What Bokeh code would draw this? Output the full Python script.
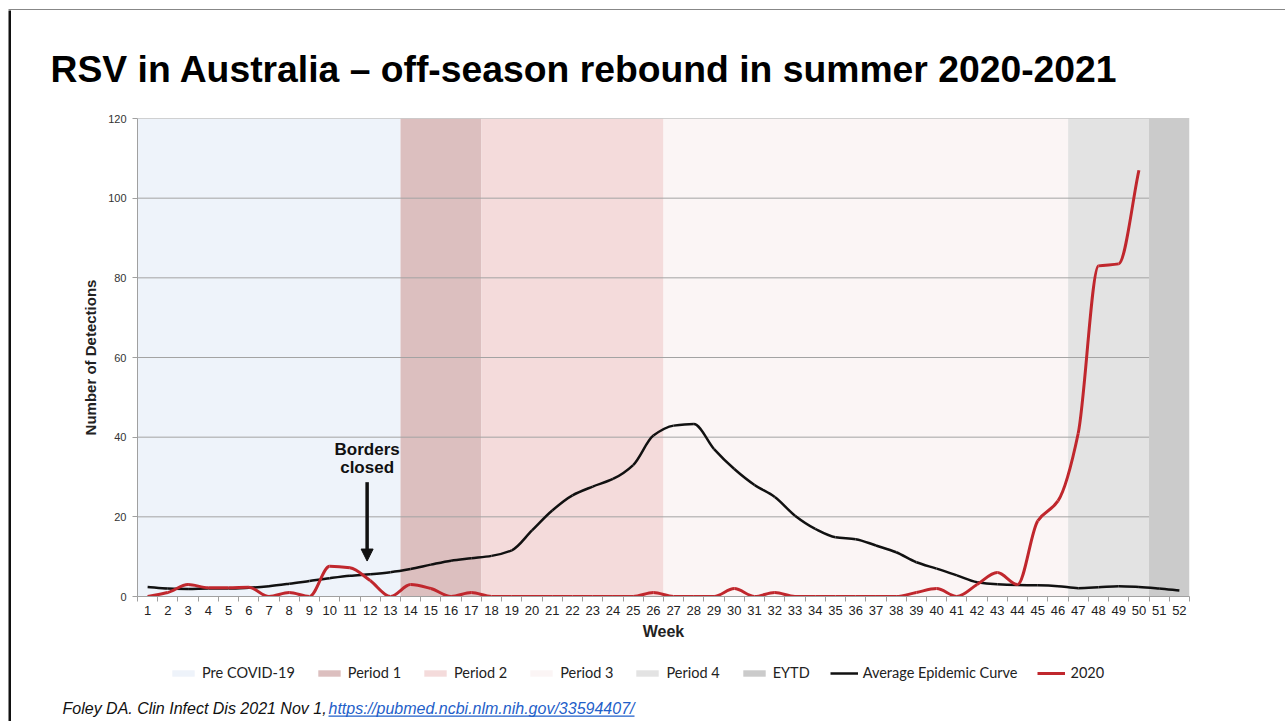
from bokeh.plotting import figure
from bokeh.layouts import column, row
from bokeh.models import (FixedTicker, Label, Arrow, NormalHead, Legend,
                          LegendItem, BoxAnnotation, Range1d)
from bokeh.embed import file_html
from bokeh.resources import INLINE

# ---------------- data ----------------
weeks = list(range(1, 53))
avg_epidemic = [2.4, 2.0, 1.9, 2.0, 2.0, 2.2, 2.6, 3.2, 3.9, 4.6,
                5.2, 5.6, 6.1, 6.9, 8.0, 9.0, 9.6, 10.2, 11.6, 16.6,
                21.6, 25.4, 27.6, 29.5, 33.0, 40.4, 42.9, 43.3, 37.0, 32.0,
                28.0, 25.0, 20.3, 17.0, 14.9, 14.4, 12.8, 11.1, 8.6, 7.0,
                5.3, 3.6, 3.1, 2.9, 2.8, 2.6, 2.1, 2.3, 2.6, 2.4,
                2.0, 1.5]
weeks_2020 = list(range(1, 51))
cases_2020 = [0, 1, 3, 2.2, 2.2, 2.3, 0, 1, 0, 7.6,
              7.2, 4, 0, 3, 2, 0, 1, 0, 0, 0,
              0, 0, 0, 0, 0, 1, 0, 0, 0, 2,
              0, 1, 0, 0, 0, 0, 0, 0, 1, 2,
              0, 3, 6, 3, 19, 24, 41, 83, 83.5, 107]
period_names = ["Pre COVID-19", "Period 1", "Period 2", "Period 3", "Period 4", "EYTD"]
period_start = [0.5, 13.5, 17.5, 26.5, 46.5, 50.5]
period_end = [13.5, 17.5, 26.5, 46.5, 50.5, 52.5]
y_ticks = [0, 20, 40, 60, 80, 100, 120]
border_week = 11.85
border_text_y = [37.0, 32.4]
border_arrow_y = [28.7, 8.9]

title_text = "RSV in Australia \u2013 off-season rebound in summer 2020-2021"
cite_text = "Foley DA. Clin Infect Dis 2021 Nov 1, "
cite_url = "https://pubmed.ncbi.nlm.nih.gov/33594407/"

# ---------------- styles / page geometry ----------------
period_colors = ["#eef3fa", "#dcbfbf", "#f4dbdb", "#fbf5f5", "#e3e3e3", "#cbcbcb"]
avg_color, red_color = "#111111", "#c0272d"
ARIAL = "Liberation Sans"
W, H = 1285, 721
BX, BY, BT = 8, 7, 3            # slide frame line position / thickness
CX, CY = BX + BT, BY + BT       # content origin
CW = W - CX                     # content width
TITLE_H = 90                    # title strip height
MAIN_TOP = CY + TITLE_H         # canvas y where main figure starts
MAIN_BOTTOM = 655               # canvas y where main figure ends
FL, FR, FT, FB = 137, 1189, 118, 596   # plot frame in page pixels


def blank(width, height, ml=0, mt=0, bg="white", far=False):
    rng = (-100, -99) if far else (0, 1)
    f = figure(width=width, height=height, output_backend="svg", toolbar_location=None,
               x_axis_type=None, y_axis_type=None, x_range=Range1d(*rng),
               y_range=Range1d(*rng), min_border_left=ml,
               min_border_right=0, min_border_top=mt, min_border_bottom=0,
               outline_line_color=None, border_fill_color="white",
               background_fill_color=bg, frame_align=False)
    for g in f.grid:
        g.visible = False
    return f


def smooth(xs, ys):
    """Bezier control points for a monotone smooth line through the data."""
    n = len(xs)
    d = [(ys[i + 1] - ys[i]) / (xs[i + 1] - xs[i]) for i in range(n - 1)]
    m = [0.0] * n
    m[0], m[-1] = d[0], d[-1]
    for i in range(1, n - 1):
        m[i] = 0.0 if d[i - 1] * d[i] <= 0 else 2.0 / (1.0 / d[i - 1] + 1.0 / d[i])
    out = dict(x0=[], y0=[], x1=[], y1=[], cx0=[], cy0=[], cx1=[], cy1=[])
    for i in range(n - 1):
        h = xs[i + 1] - xs[i]
        out["x0"].append(xs[i]); out["y0"].append(ys[i])
        out["x1"].append(xs[i + 1]); out["y1"].append(ys[i + 1])
        out["cx0"].append(xs[i] + h / 3); out["cy0"].append(ys[i] + m[i] * h / 3)
        out["cx1"].append(xs[i + 1] - h / 3); out["cy1"].append(ys[i + 1] - m[i + 1] * h / 3)
    return out


# ---------------- slide frame strips ----------------
top_strip = blank(W, CY, ml=BX, mt=BY, bg="#111111")
left_strip = blank(CX, H - CY, ml=BX, bg="#111111")

# ---------------- title ----------------
title_fig = blank(CW, TITLE_H)
title_fig.add_layout(Label(x=50 - CX, y=MAIN_TOP - 68, x_units="screen", y_units="screen",
                           text=title_text, text_font=ARIAL, text_font_style="bold",
                           text_font_size="37.3px", text_color="#000000",
                           text_baseline="middle"))

# ---------------- main chart ----------------
p = figure(width=CW, height=MAIN_BOTTOM - MAIN_TOP,
           x_range=(period_start[0], period_end[-1]),
           y_range=(y_ticks[0], y_ticks[-1]), output_backend="svg",
           toolbar_location=None, min_border_left=FL - CX, min_border_right=W - FR,
           min_border_top=FT - MAIN_TOP, min_border_bottom=MAIN_BOTTOM - FB,
           frame_align=False)
p.xgrid.visible = False
p.ygrid.visible = False
p.outline_line_color = None
p.background_fill_color = "white"
p.border_fill_color = "white"

for s, e, c in zip(period_start, period_end, period_colors):
    p.quad(left=s, right=e, bottom=y_ticks[0], top=y_ticks[-1], fill_color=c, line_color=None)

inner = y_ticks[1:-1]
p.segment(x0=[period_start[0]] * len(inner), x1=[period_start[-1]] * len(inner),
          y0=inner, y1=inner, line_color="#a3a3a3", line_width=1)
p.segment(x0=[period_start[0]], x1=[period_end[-1]], y0=[y_ticks[-1]], y1=[y_ticks[-1]],
          line_color="#a3a3a3", line_width=1)

p.bezier(line_color=avg_color, line_width=2.5, **smooth(weeks, avg_epidemic))
p.bezier(line_color=red_color, line_width=3, **smooth(weeks_2020, cases_2020))

ya = p.yaxis[0]
ya.ticker = FixedTicker(ticks=y_ticks)
ya.axis_label = "Number of Detections"
ya.axis_label_text_font = ARIAL
ya.axis_label_text_font_style = "bold"
ya.axis_label_text_font_size = "15px"
ya.axis_label_text_color = "#222222"
ya.axis_label_standoff = 6
ya.major_label_text_font = ARIAL
ya.major_label_text_font_size = "11px"
ya.major_label_text_color = "#333333"
ya.major_label_standoff = 6
ya.axis_line_color = "#a0a0a0"
ya.major_tick_line_color = "#a0a0a0"
ya.major_tick_out = 5
ya.major_tick_in = 0
ya.minor_tick_line_color = None

xa = p.xaxis[0]
xa.ticker = FixedTicker(ticks=weeks, minor_ticks=[w - 0.5 for w in weeks] + [weeks[-1] + 0.5])
xa.axis_label = "Week"
xa.axis_label_text_font = ARIAL
xa.axis_label_text_font_style = "bold"
xa.axis_label_text_font_size = "16px"
xa.axis_label_text_color = "#222222"
xa.axis_label_standoff = 5
xa.major_label_text_font = ARIAL
xa.major_label_text_font_size = "13px"
xa.major_label_text_color = "#222222"
xa.major_label_standoff = 4
xa.axis_line_color = "#a0a0a0"
xa.major_tick_line_color = None
xa.major_tick_out = 0
xa.major_tick_in = 0
xa.minor_tick_line_color = "#a0a0a0"
xa.minor_tick_out = 5
xa.minor_tick_in = 0

for txt, yy in zip(["Borders", "closed"], border_text_y):
    p.add_layout(Label(x=border_week, y=yy, text=txt, text_align="center",
                       text_baseline="middle", text_font=ARIAL, text_font_style="bold",
                       text_font_size="17px", text_color="#111111"))
p.add_layout(Arrow(end=NormalHead(size=12, fill_color="#111111", line_color="#111111"),
                   x_start=border_week, y_start=border_arrow_y[0],
                   x_end=border_week, y_end=border_arrow_y[1],
                   line_width=3.5, line_color="#111111"))

# ---------------- legend + citation strip ----------------
# legend proxies: same data, drawn far outside this strip's visible ranges
bottom_fig = blank(CW, H - MAIN_BOTTOM, far=True)
items = []
for n, s, e, c in zip(period_names, period_start, period_end, period_colors):
    r = bottom_fig.quad(left=[s], right=[e], bottom=[y_ticks[0]], top=[y_ticks[-1]],
                        fill_color=c, line_color=None)
    items.append(LegendItem(label=n, renderers=[r]))
r_avg = bottom_fig.line(x=weeks, y=avg_epidemic, line_color=avg_color, line_width=2.5)
r_red = bottom_fig.line(x=weeks_2020, y=cases_2020, line_color=red_color, line_width=3)
items += [LegendItem(label="Average Epidemic Curve", renderers=[r_avg]),
          LegendItem(label="2020", renderers=[r_red])]
legend = Legend(items=items, location=(169 - CX, H - 681), orientation="horizontal",
                glyph_width=28, glyph_height=8, label_standoff=5, spacing=20,
                padding=0, margin=0, background_fill_alpha=0, border_line_color=None,
                label_text_font="Lato", label_text_font_size="14.5px",
                label_text_color="#222222")
bottom_fig.add_layout(legend)

bottom_fig.add_layout(Label(x=62 - CX, y=H - 707.5, x_units="screen", y_units="screen",
                            text=cite_text, text_font=ARIAL, text_font_style="italic",
                            text_font_size="16px", text_color="#111111",
                            text_baseline="middle"))
bottom_fig.add_layout(Label(x=328 - CX, y=H - 707.5, x_units="screen", y_units="screen",
                            text=cite_url, text_font=ARIAL, text_font_style="italic",
                            text_font_size="16px", text_color="#1f5fc9",
                            text_baseline="middle"))
bottom_fig.add_layout(BoxAnnotation(left=328 - CX, right=634 - CX, top=H - 715, bottom=H - 716.2,
                                    left_units="screen", right_units="screen",
                                    top_units="screen", bottom_units="screen",
                                    fill_color="#1f5fc9", fill_alpha=1, line_color=None))

page = column(top_strip,
              row(left_strip, column(title_fig, p, bottom_fig, spacing=0), spacing=0),
              spacing=0)

open("out.html", "w").write(file_html(page, INLINE))
